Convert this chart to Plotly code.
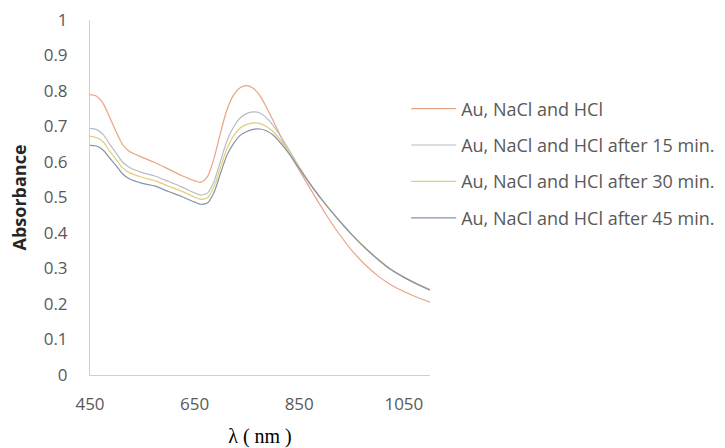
import plotly.graph_objects as go

wavelength = [450, 462, 475, 487, 500, 512, 525, 550, 575, 600, 625, 650, 662, 675, 687, 700,
              712, 725, 737, 750, 762, 775, 787, 800, 825, 850, 875, 900, 925, 950, 975, 1000,
              1025, 1050, 1075, 1100]

au_nacl_hcl = [0.790, 0.786, 0.765, 0.728, 0.685, 0.650, 0.630, 0.613, 0.598, 0.580, 0.562, 0.547,
               0.543, 0.560, 0.610, 0.685, 0.748, 0.790, 0.809, 0.815, 0.808, 0.786, 0.755, 0.717,
               0.640, 0.577, 0.515, 0.455, 0.400, 0.352, 0.312, 0.280, 0.254, 0.235, 0.219, 0.205]
after_15 = [0.695, 0.692, 0.678, 0.652, 0.625, 0.600, 0.585, 0.570, 0.560, 0.545, 0.530, 0.513,
            0.507, 0.513, 0.545, 0.605, 0.660, 0.700, 0.724, 0.737, 0.741, 0.738, 0.725, 0.703,
            0.648, 0.586, 0.530, 0.482, 0.438, 0.397, 0.360, 0.327, 0.298, 0.276, 0.257, 0.241]
after_30 = [0.672, 0.669, 0.657, 0.632, 0.607, 0.584, 0.570, 0.557, 0.547, 0.532, 0.518, 0.501,
            0.495, 0.500, 0.530, 0.587, 0.638, 0.675, 0.696, 0.706, 0.710, 0.708, 0.700, 0.686,
            0.640, 0.584, 0.530, 0.482, 0.438, 0.397, 0.360, 0.327, 0.298, 0.276, 0.257, 0.240]
after_45 = [0.647, 0.645, 0.634, 0.612, 0.590, 0.567, 0.553, 0.540, 0.532, 0.517, 0.503, 0.487,
            0.481, 0.485, 0.514, 0.570, 0.620, 0.653, 0.675, 0.686, 0.692, 0.693, 0.688, 0.676,
            0.634, 0.582, 0.529, 0.481, 0.437, 0.396, 0.359, 0.326, 0.297, 0.275, 0.256, 0.239]

series_names = ["Au, NaCl and HCl", "Au, NaCl and HCl after 15 min.",
                "Au, NaCl and HCl after 30 min.", "Au, NaCl and HCl after 45 min."]
series_values = [au_nacl_hcl, after_15, after_30, after_45]
series_colors = ["#E9A486", "#B9BCC4", "#E3CF73", "#8592AE"]

x_ticks = [450, 650, 850, 1050]
y_ticks = [0, 0.1, 0.2, 0.3, 0.4, 0.5, 0.6, 0.7, 0.8, 0.9, 1]
y_tick_labels = ["0", "0.1", "0.2", "0.3", "0.4", "0.5", "0.6", "0.7", "0.8", "0.9", "1"]

fig = go.Figure()
for i, (name, vals, col) in enumerate(zip(series_names, series_values, series_colors)):
    fig.add_trace(go.Scatter(x=wavelength, y=vals, mode="lines", name=name,
                             line=dict(color=col, width=1.2, shape="spline", smoothing=0.8),
                             legendgroup=f"g{i}"))

fig.update_layout(
    width=725, height=448,
    margin=dict(l=90, r=295, t=20, b=73, autoexpand=False),
    paper_bgcolor="white", plot_bgcolor="white",
    font=dict(family="Open Sans, Liberation Sans, sans-serif", color="#595959", size=16),
    showlegend=True,
    legend=dict(x=0.93, y=0.596, xanchor="left", yanchor="middle",
                font=dict(size=18, color="#595959"), tracegroupgap=10,
                bgcolor="rgba(0,0,0,0)", itemwidth=45),
    xaxis=dict(range=[450, 1100], tickvals=x_ticks, ticktext=[str(t) for t in x_ticks],
               showgrid=False, zeroline=False, showline=True, linecolor="#D0D0D0", linewidth=1,
               ticks="", tickfont=dict(size=17, color="#595959"), ticklabelstandoff=14,
               title=dict(text="λ ( nm )", font=dict(family="Liberation Serif, serif", size=20, color="#000000"),
                          standoff=17)),
    yaxis=dict(range=[0, 1], tickvals=y_ticks, ticktext=y_tick_labels,
               showgrid=False, zeroline=False, showline=True, linecolor="#D0D0D0", linewidth=1,
               ticks="", tickfont=dict(size=17, color="#595959"), ticklabelstandoff=18,
               title=dict(text="<b>Absorbance</b>", font=dict(size=18, color="#262626"), standoff=12)),
)

fig.write_html("out.html")
